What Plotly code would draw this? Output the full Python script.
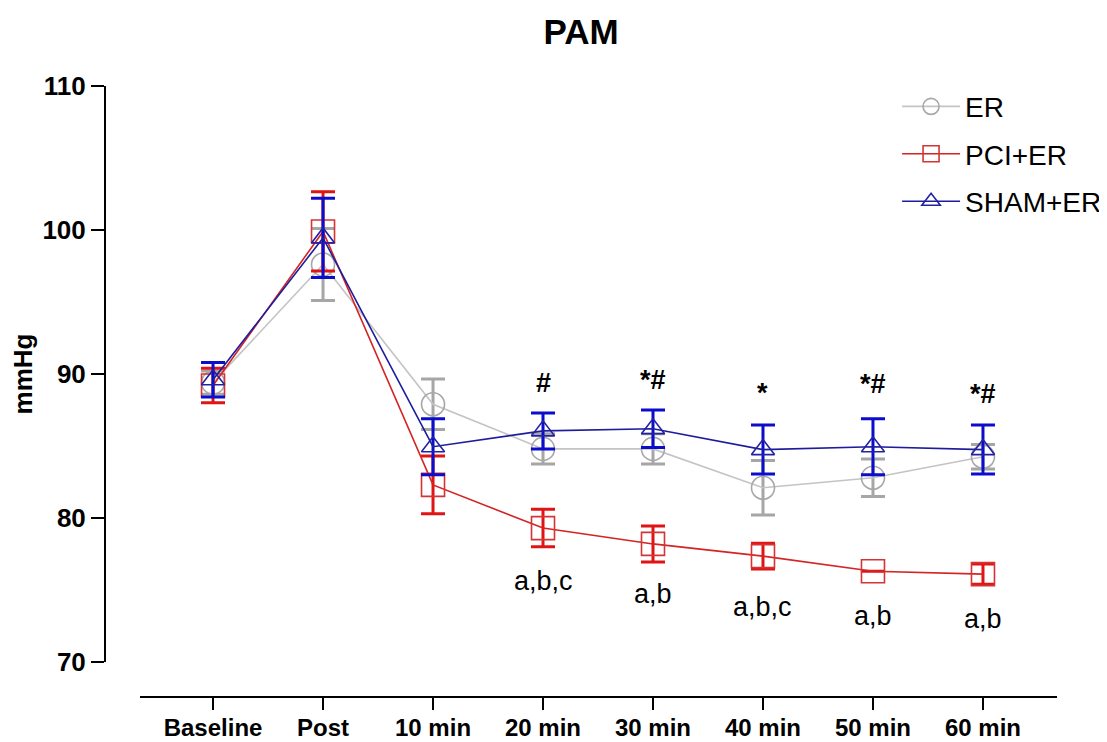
import plotly.graph_objects as go

categories = ["Baseline", "Post", "10 min", "20 min", "30 min", "40 min", "50 min", "60 min"]
x_idx = list(range(len(categories)))

er_mean = [89.4, 97.6, 87.9, 84.8, 84.8, 82.1, 82.8, 84.25]
er_sem = [0.8, 2.5, 1.75, 1.05, 1.05, 1.9, 1.3, 0.85]

pci_mean = [89.2, 99.9, 82.3, 79.3, 78.2, 77.35, 76.3, 76.1]
pci_sem = [1.2, 2.75, 2.0, 1.3, 1.25, 0.9, None, 0.7]

sham_mean = [89.6, 99.45, 84.95, 86.05, 86.2, 84.75, 84.95, 84.75]
sham_sem = [1.2, 2.75, 1.95, 1.25, 1.3, 1.7, 1.95, 1.7]

sig_top_labels = ["#", "*#", "*", "*#", "*#"]
sig_top_x = [3, 4, 5, 6, 7]
sig_top_y = [89.4, 89.6, 88.7, 89.3, 88.6]

sig_bot_labels = ["a,b,c", "a,b", "a,b,c", "a,b", "a,b"]
sig_bot_x = [3, 4, 5, 6, 7]
sig_bot_y = [75.6, 74.7, 73.8, 73.2, 73.0]

FONT = "Liberation Sans, Arial, sans-serif"

W, H = 1099, 734

fig = go.Figure()

series = [
    ("ER", er_mean, er_sem, "circle-open", 23, "#C4C4C4", "#A8A8A8", "#A6A6A6"),
    ("PCI+ER", pci_mean, pci_sem, "square-open", 23, "#D42424", "#D43434", "#E01414"),
    ("SHAM+ER", sham_mean, sham_sem, "triangle-up-open", 20, "#1E1E9C", "#2222A4", "#0C0CCC"),
]

for i, (name, m, s, sym, size, lc, mc, ec) in enumerate(series):
    fig.add_trace(go.Scatter(
        x=x_idx, y=m, name=name, mode="lines+markers",
        legendgroup=name,
        line=dict(color=lc, width=1.6),
        marker=dict(symbol=sym, size=size, color=mc, line=dict(color=mc, width=1.6)),
        error_y=dict(type="data", array=s, visible=True, color=ec, thickness=3, width=12),
    ))

for lab, xx, yy in zip(sig_top_labels, sig_top_x, sig_top_y):
    fig.add_annotation(x=xx, y=yy, text=f"<b>{lab}</b>", showarrow=False,
                       font=dict(family=FONT, size=27, color="black"),
                       xref="x", yref="y", yanchor="middle")

for lab, xx, yy in zip(sig_bot_labels, sig_bot_x, sig_bot_y):
    fig.add_annotation(x=xx, y=yy, text=lab, showarrow=False,
                       font=dict(family=FONT, size=27, color="black"),
                       xref="x", yref="y", yanchor="middle")

fig.update_layout(
    width=W, height=H,
    margin=dict(l=97, r=50, t=78, b=45, autoexpand=False),
    paper_bgcolor="white", plot_bgcolor="white",
    font=dict(family=FONT, color="black"),
    title=dict(text="<b>PAM</b>", x=0.5, xref="paper", y=1 - 24 / H, yref="container",
               xanchor="center", yanchor="middle", automargin=False,
               font=dict(family=FONT, size=35, color="black")),
    showlegend=True,
    legend=dict(x=0.832, y=1.007, xanchor="left", yanchor="top", xref="paper", yref="paper",
                font=dict(family=FONT, size=28, color="black"),
                bgcolor="rgba(0,0,0,0)", tracegroupgap=8, traceorder="grouped",
                itemsizing="trace", itemwidth=58),
    xaxis=dict(
        domain=[35 / 952, 1], anchor="free", position=0, automargin=False,
        range=[-0.664, 7.673],
        tickmode="array", tickvals=x_idx, ticktext=categories,
        showline=True, linecolor="black", linewidth=2,
        ticks="outside", ticklen=12, tickwidth=2, tickcolor="black",
        ticklabelstandoff=-3,
        showgrid=False, zeroline=False,
        tickfont=dict(family=FONT, size=24, color="black", weight="bold"),
    ),
    yaxis=dict(
        domain=[35 / 611, 1], anchor="free", position=0, automargin=False,
        range=[70, 110], tickmode="array", tickvals=[70, 80, 90, 100, 110],
        showline=True, linecolor="black", linewidth=2,
        ticks="outside", ticklen=13, tickwidth=2, tickcolor="black",
        showgrid=False, zeroline=False,
        tickfont=dict(family=FONT, size=26, color="black", weight="bold"),
        title=dict(text="<b>mmHg</b>", font=dict(family=FONT, size=26, color="black"), standoff=3),
    ),
)

fig.write_html("out.html")
